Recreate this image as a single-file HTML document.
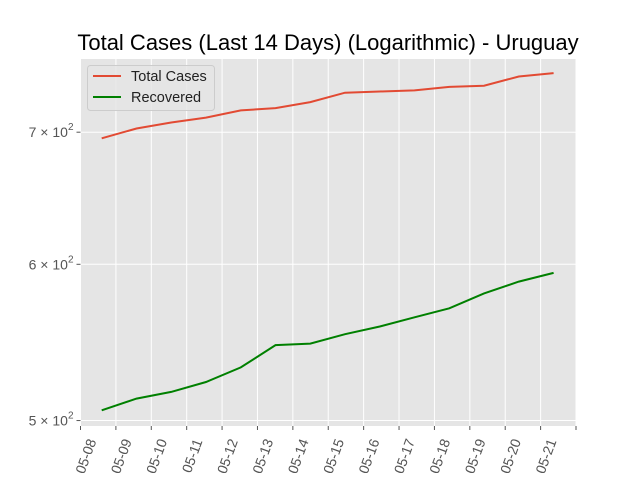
<!DOCTYPE html>
<html><head><meta charset="utf-8"><style>
body{margin:0;background:#fff;}
svg{display:block;font-family:"Liberation Sans","DejaVu Sans",sans-serif;}
</style></head><body>
<svg id="c" width="640" height="480"></svg>
<script>
const dates=["05-08","05-09","05-10","05-11","05-12","05-13","05-14","05-15","05-16","05-17","05-18","05-19","05-20","05-21"];
const totalCases=[695,703,708,712,718,720,725,733,734,735,738,739,747,750];
const recovered=[506,513,517,523,532,546,547,553,558,564,570,580,588,594];
const yTicks=[500,600,700];
const yTickLabels=["5","6","7"];
const NS="http://www.w3.org/2000/svg";
const svg=document.getElementById('c');
const L=80.5,R=576,T=59,B=426;
const dayW=(R-L)/14;
const xs=d=>L+d*dayW;
const ys=v=>264.3-857*Math.log(v/600);
function mk(t,a,p){const e=document.createElementNS(NS,t);for(const k in a)e.setAttribute(k,a[k]);(p||svg).appendChild(e);return e;}
const bg=mk('rect',{x:L,y:T,width:R-L,height:B-T,fill:'#e5e5e5'});


for(let i=0;i<=14;i++){
 const x=xs(i);
 const g=mk('line',{x1:x,x2:x,y1:T,y2:B,stroke:'#fff','stroke-width':1});
 
 
 const tk=mk('line',{x1:x,x2:x,y1:B,y2:B+4,stroke:'#555','stroke-width':1});
 
 
 if(i<dates.length){
  const ax=x+16,ay=B+15;
  const t=mk('text',{x:ax,y:ay,'font-size':14,fill:'#555','text-anchor':'end',transform:`rotate(-70 ${ax} ${ay})`});
  t.textContent=dates[i];
  
  
 }
}
yTicks.forEach((v,i)=>{
 const y=ys(v);
 const g=mk('line',{x1:L,x2:R,y1:y,y2:y,stroke:'#fff','stroke-width':1});
 
 
 const tk=mk('line',{x1:L-4,x2:L,y1:y,y2:y,stroke:'#555','stroke-width':1});
 
 
 const t=mk('text',{x:L-7,y:y+5,'font-size':14,fill:'#555','text-anchor':'end'});
 t.innerHTML=yTickLabels[i]+' \u00d7 10<tspan dy="-7" font-size="10">2</tspan>';
 
 
});
const xStart=0.6, xStep=0.982;
function line(vals,col,name){
 const pts=vals.map((v,i)=>xs(xStart+i*xStep).toFixed(1)+','+ys(v).toFixed(1)).join(' ');
 const p=mk('polyline',{points:pts,fill:'none',stroke:col,'stroke-width':2});
 
 
}
line(totalCases,'#e24a33','total-cases-line');
line(recovered,'#008000','recovered-line');
const lg=mk('g',{});


mk('rect',{x:87.5,y:65.5,width:127,height:45,rx:3,fill:'#e5e5e5',stroke:'#ccc','fill-opacity':0.8},lg);
[['Total Cases','#e24a33',76],['Recovered','#008000',97]].forEach(([n,c,y])=>{
 const e=mk('g',{},lg);
 
 
 mk('line',{x1:93,x2:121,y1:y,y2:y,stroke:c,'stroke-width':2},e);
 const t=mk('text',{x:131,y:y+5,'font-size':14.5,fill:'#222'},e);t.textContent=n;
});
const ti=mk('text',{x:328,y:50,'font-size':22,'text-anchor':'middle',fill:'#000'});
ti.textContent='Total Cases (Last 14 Days) (Logarithmic) - Uruguay';


</script>
</body></html>
